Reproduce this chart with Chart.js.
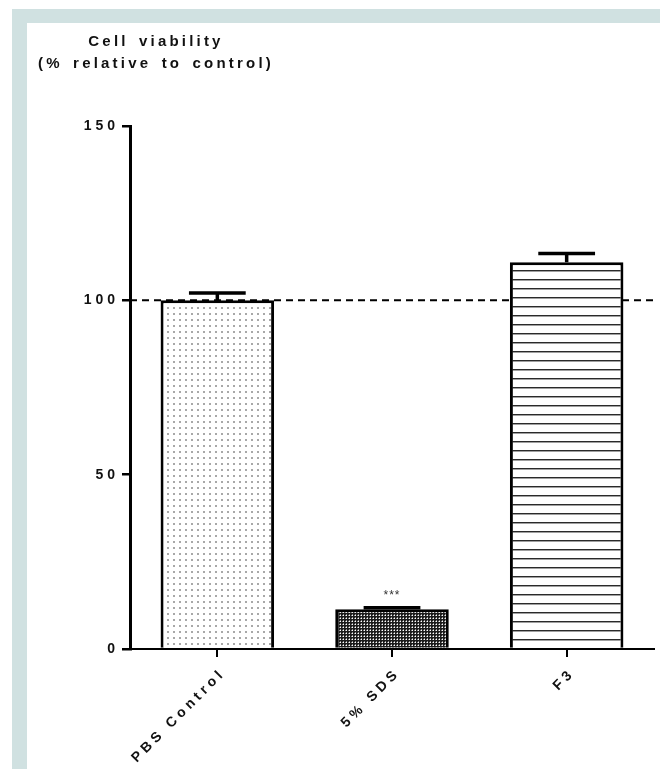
<!DOCTYPE html>
<html>
<head>
<meta charset="utf-8">
<script src="https://cdn.jsdelivr.net/npm/chart.js@4"></script>
<style>
html, body { margin: 0; padding: 0; background: #fff; }
#frame { position: absolute; left: 12px; top: 9px; width: 648px; height: 760px; background: #d0e1e1; }
#box { position: absolute; left: 27px; top: 23px; width: 633px; height: 746px; background: #fff; }
</style>
</head>
<body>
<div id="frame"></div>
<div id="box"><canvas id="myChart"></canvas></div>
<script>
// values
var groups = ['PBS Control', '5% SDS', 'F3'];
var viability = [100, 11.4, 110.9];
var errors = [2.1, 0.4, 2.5];
var stars = ['', '***', ''];
var yTicks = [0, 50, 100, 150];
var controlLine = 100;
var titleLines = ['Cell viability', '(% relative to control)'];

var FONT = "'Liberation Sans', Arial, sans-serif";
var SPACING = '4px';

function makePattern(w, h, draw) {
    var c = document.createElement('canvas');
    c.width = w;
    c.height = h;
    var g = c.getContext('2d');
    draw(g, w, h);
    return g.createPattern(c, 'repeat');
}

var dots = makePattern(6, 6, function (g, w, h) {
    g.fillStyle = '#fff';
    g.fillRect(0, 0, w, h);
    g.fillStyle = '#a8a8a8';
    g.fillRect(2, 2, 2, 2);
});
var checker = makePattern(3, 3, function (g, w, h) {
    g.fillStyle = '#1c1c1c';
    g.fillRect(0, 0, w, h);
    g.fillStyle = '#fff';
    g.fillRect(1, 1, 1, 1);
    g.fillStyle = '#8a8a8a';
    g.fillRect(0, 1, 1, 1);
    g.fillRect(1, 0, 1, 1);
});
var stripes = makePattern(1, 9, function (g, w, h) {
    g.fillStyle = '#fff';
    g.fillRect(0, 0, w, h);
    g.fillStyle = '#2a2a2a';
    g.fillRect(0, 4, 1, 1);
    g.fillStyle = '#a0a0a0';
    g.fillRect(0, 5, 1, 1);
});

var spacingPlugin = {
    id: 'spacing',
    beforeUpdate: function (chart) { chart.ctx.letterSpacing = SPACING; },
    beforeLayout: function (chart) { chart.ctx.letterSpacing = SPACING; },
    beforeDraw: function (chart) { chart.ctx.letterSpacing = SPACING; }
};

var extras = {
    id: 'extras',
    beforeDatasetsDraw: function (chart) {
        var ctx = chart.ctx, y = chart.scales.y, area = chart.chartArea;
        var py = y.getPixelForValue(controlLine);
        ctx.save();
        ctx.strokeStyle = '#000';
        ctx.lineWidth = 2;
        ctx.setLineDash([7, 5]);
        ctx.beginPath();
        ctx.moveTo(area.left, py);
        ctx.lineTo(area.right, py);
        ctx.stroke();
        ctx.restore();
    },
    afterDatasetsDraw: function (chart) {
        var ctx = chart.ctx, y = chart.scales.y;
        var bars = chart.getDatasetMeta(0).data;
        ctx.save();
        ctx.strokeStyle = '#000';
        ctx.lineWidth = 3.5;
        bars.forEach(function (bar, i) {
            var top = y.getPixelForValue(viability[i] + errors[i]);
            var half = bar.width / 4;
            ctx.beginPath();
            ctx.moveTo(bar.x, bar.y);
            ctx.lineTo(bar.x, top);
            ctx.moveTo(bar.x - half, top);
            ctx.lineTo(bar.x + half, top);
            ctx.stroke();
            if (stars[i]) {
                ctx.letterSpacing = '1px';
                ctx.fillStyle = '#333';
                ctx.font = '12px ' + FONT;
                ctx.textAlign = 'center';
                ctx.textBaseline = 'middle';
                ctx.fillText(stars[i], bar.x, top - 12);
            }
        });
        ctx.restore();
    },
    afterDraw: function (chart) {
        var ctx = chart.ctx, area = chart.chartArea;
        ctx.save();
        ctx.letterSpacing = '3.2px';
        ctx.wordSpacing = '3px';
        ctx.fillStyle = '#111';
        ctx.font = 'bold 15px ' + FONT;
        ctx.textAlign = 'center';
        ctx.textBaseline = 'middle';
        ctx.fillText(titleLines[0], area.left + 26, 19);
        ctx.fillText(titleLines[1], area.left + 26, 41);
        ctx.restore();
    }
};

var ctx = document.getElementById('myChart').getContext('2d');
var chart = new Chart(ctx, {
    type: 'bar',
    data: {
        labels: groups,
        datasets: [{
            data: viability,
            backgroundColor: [dots, checker, stripes],
            borderColor: '#000',
            borderWidth: 3,
            borderSkipped: 'bottom',
            barPercentage: 0.65,
            categoryPercentage: 1
        }]
    },
    options: {
        responsive: true,
        maintainAspectRatio: false,
        animation: false,
        layout: { padding: { top: 103, right: 6, left: 0, bottom: 0 } },
        plugins: {
            legend: { display: false },
            tooltip: { enabled: false },
            title: { display: false }
        },
        scales: {
            x: {
                offset: true,
                afterFit: function (s) { s.height = 120; },
                grid: { offset: false, drawOnChartArea: false, drawTicks: true, tickLength: 8, color: '#000', lineWidth: 2 },
                border: { display: true, color: '#000', width: 2 },
                ticks: {
                    minRotation: 45,
                    maxRotation: 45,
                    padding: 8,
                    labelOffset: 6,
                    color: '#111',
                    font: { family: FONT, size: 14, weight: 'bold' }
                }
            },
            y: {
                min: 0,
                max: 150,
                afterFit: function (s) { s.width = 103; },
                afterBuildTicks: function (s) { s.ticks = yTicks.map(function (v) { return { value: v }; }); },
                grid: { drawOnChartArea: false, drawTicks: true, tickLength: 8, color: '#000', lineWidth: 2.5 },
                border: { display: true, color: '#000', width: 3 },
                ticks: {
                    padding: 3,
                    color: '#111',
                    font: { family: FONT, size: 14, weight: 'bold' }
                }
            }
        }
    },
    plugins: [spacingPlugin, extras]
});
</script>
</body>
</html>
